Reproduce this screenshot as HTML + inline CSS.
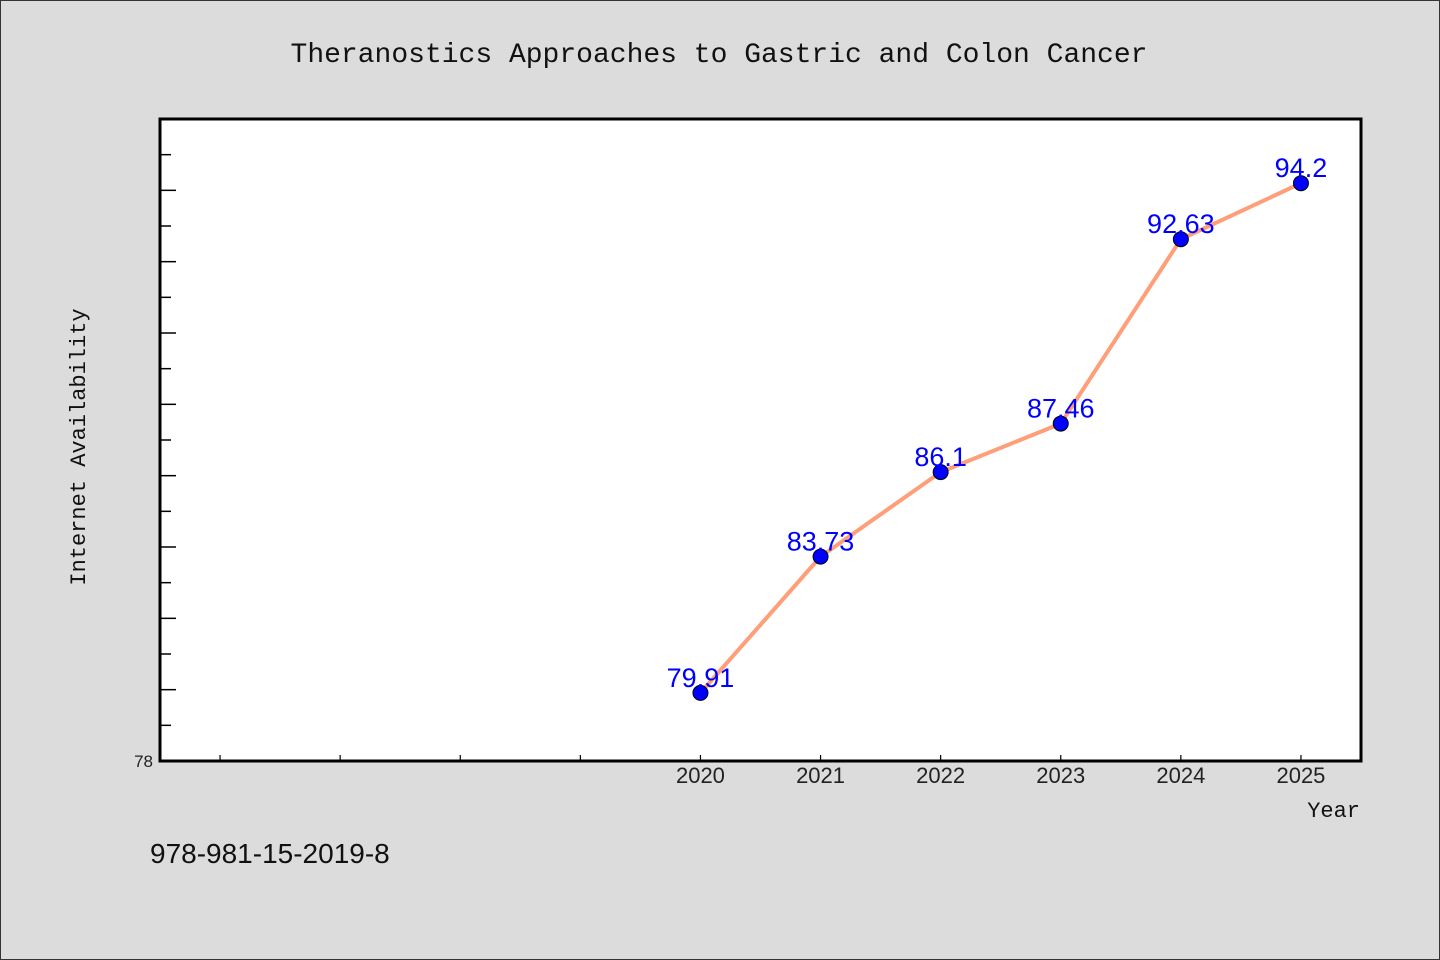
<!DOCTYPE html>
<html><head><meta charset="utf-8"><style>
html,body{margin:0;padding:0;background:#dcdcdc;}
svg{display:block;}
</style></head><body>
<svg width="1440" height="960" viewBox="0 0 1440 960">
<rect x="0.5" y="0.5" width="1439" height="959" fill="#dcdcdc" stroke="#333"/>
<text x="719" y="62" text-anchor="middle" font-family="Liberation Mono, monospace" font-size="28" fill="#111">Theranostics Approaches to Gastric and Colon Cancer</text>
<rect x="160" y="119" width="1201" height="642" fill="#fff" stroke="#000" stroke-width="3"/>
<g id="yticks"></g><g id="xticks"></g>
<text transform="translate(85,447) rotate(-90)" text-anchor="middle" font-family="Liberation Mono, monospace" font-size="22" fill="#111">Internet Availability</text>
<text x="1360" y="817" text-anchor="end" font-family="Liberation Mono, monospace" font-size="22" fill="#111">Year</text>
<text x="150" y="863" font-family="Liberation Sans, sans-serif" font-size="28" fill="#111">978-981-15-2019-8</text>
<g id="series"></g>
</svg>
<script>
const years = [2020, 2021, 2022, 2023, 2024, 2025];
const values = [79.91, 83.73, 86.1, 87.46, 92.63, 94.2];
const valueLabels = ["79.91", "83.73", "86.1", "87.46", "92.63", "94.2"];
const xTickYears = [2016, 2017, 2018, 2019, 2020, 2021, 2022, 2023, 2024, 2025];
const xTickLabels = ["", "", "", "", "2020", "2021", "2022", "2023", "2024", "2025"];
const yMin = 78, yMax = 96, xMin = 2015.5, xMax = 2025.5;
const L=160,R=1361,T=119,B=761;
const sx = v => L + (v - xMin) / (xMax - xMin) * (R - L);
const sy = v => B - (v - yMin) / (yMax - yMin) * (B - T);
const NS="http://www.w3.org/2000/svg";
function mk(tag, attrs, parent){const e=document.createElementNS(NS,tag);for(const k in attrs)e.setAttribute(k,attrs[k]);parent.appendChild(e);return e;}
const yt=document.getElementById('yticks');
for(let v=yMin+1; v<yMax; v++){
  const y=sy(v), len=(v%2===0)?16:11;
  const l=mk('line',{x1:L,x2:L+len,y1:y,y2:y,stroke:'#000','stroke-width':1.5},yt);
  
  
}
const y0=mk('text',{x:153,y:B+6,'text-anchor':'end','font-family':'Liberation Sans, sans-serif','font-size':17,fill:'#222'},yt);
y0.textContent=String(yMin);


const xt=document.getElementById('xticks');
xTickYears.forEach((yr,i)=>{
  const x=sx(yr);
  const l=mk('line',{x1:x,x2:x,y1:B,y2:B-6,stroke:'#000','stroke-width':1.2},xt);
  
  
  if(xTickLabels[i]){
    const t=mk('text',{x:x,y:783,'text-anchor':'middle','font-family':'Liberation Sans Narrow, Liberation Sans, sans-serif','font-size':22,fill:'#222'},xt);
    t.textContent=xTickLabels[i];
    
    
  }
});
const s=document.getElementById('series');
const pts=years.map((y,i)=>sx(y)+','+sy(values[i])).join(' ');
const pl=mk('polyline',{points:pts,fill:'none',stroke:'#ff9f7a','stroke-width':4,'stroke-linejoin':'round'},s);


years.forEach((y,i)=>{
  const c=mk('circle',{cx:sx(y),cy:sy(values[i]),r:7.5,fill:'#0000ff',stroke:'#000','stroke-width':1},s);
  
  
  const t=mk('text',{x:sx(y),y:sy(values[i])-6,'text-anchor':'middle','font-family':'Liberation Sans, sans-serif','font-size':27,fill:'#0000ff'},s);
  t.textContent=valueLabels[i];
  
  
});
</script>
</body></html>
